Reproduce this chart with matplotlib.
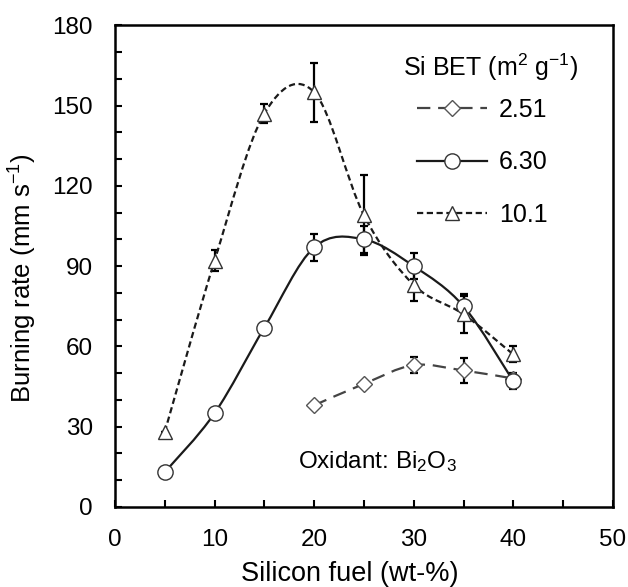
import matplotlib
matplotlib.use("Agg")
import matplotlib.pyplot as plt
from matplotlib.path import Path
from matplotlib.patches import PathPatch
from matplotlib.lines import Line2D

plt.rcParams['font.family'] = ['Liberation Sans', 'DejaVu Sans']
plt.rcParams['mathtext.fontset'] = 'custom'
plt.rcParams['mathtext.rm'] = 'Liberation Sans'
plt.rcParams['mathtext.it'] = 'Liberation Sans'
plt.rcParams['mathtext.default'] = 'regular'

# Si BET 10.1 m2/g
x_tri = [5, 10, 15, 20, 25, 30, 35, 40]
y_tri = [28, 92, 147, 155, 109, 83, 72, 57]
e_tri = [0, 4, 3.5, 11, 15, 6, 7, 3]

# Si BET 6.30 m2/g
x_circ = [5, 10, 15, 20, 25, 30, 35, 40]
y_circ = [13, 35, 67, 97, 100, 90, 75, 47]
e_circ = [0, 0, 0, 5, 5, 5, 4.5, 3]

# Si BET 2.51 m2/g
x_dia = [20, 25, 30, 35, 40]
y_dia = [38, 46, 53, 51, 48]
e_dia = [0, 0, 3, 4.7, 0]

labels = ['2.51', '6.30', '10.1']


def smooth_path(xs, ys):
    # Excel-style smoothed line as cubic bezier segments
    n = len(xs)
    verts = [(xs[0], ys[0])]
    codes = [Path.MOVETO]
    for i in range(n - 1):
        p0 = max(i - 1, 0)
        p3 = min(i + 2, n - 1)
        c1 = (xs[i] + (xs[i + 1] - xs[p0]) / 6, ys[i] + (ys[i + 1] - ys[p0]) / 6)
        c2 = (xs[i + 1] - (xs[p3] - xs[i]) / 6, ys[i + 1] - (ys[p3] - ys[i]) / 6)
        verts += [c1, c2, (xs[i + 1], ys[i + 1])]
        codes += [Path.CURVE4] * 3
    return Path(verts, codes)


fig = plt.figure(figsize=(6.28, 5.87), dpi=100)
ax = fig.add_axes([0.183, 0.1363, 0.793, 0.8207])

ebkw = dict(fmt='none', ecolor='black', elinewidth=1.6, capsize=3, capthick=1.6, zorder=2)
ax.errorbar(x_tri, y_tri, yerr=e_tri, **ebkw)
ax.errorbar(x_circ, y_circ, yerr=e_circ, **ebkw)
ax.errorbar(x_dia, y_dia, yerr=e_dia, **ebkw)

dia_style = (0, (6, 3.5))
tri_style = (0, (2.8, 1.6))
ax.add_patch(PathPatch(smooth_path(x_dia, y_dia), fill=False, edgecolor='#444444',
                       lw=1.6, linestyle=dia_style, zorder=3))
ax.add_patch(PathPatch(smooth_path(x_circ, y_circ), fill=False, edgecolor='#1a1a1a',
                       lw=1.6, linestyle='-', zorder=3))
ax.add_patch(PathPatch(smooth_path(x_tri, y_tri), fill=False, edgecolor='#1a1a1a',
                       lw=1.6, linestyle=tri_style, zorder=3))

dia_mk = dict(marker='D', ms=8, mfc='white', mec='#555555', mew=1.0)
circ_mk = dict(marker='o', ms=11, mfc='white', mec='#333333', mew=1.0)
tri_mk = dict(marker='^', ms=10, mfc='white', mec='#333333', mew=1.0)
ax.plot(x_dia, y_dia, ls='none', zorder=4, **dia_mk)
ax.plot(x_circ, y_circ, ls='none', zorder=4, **circ_mk)
ax.plot(x_tri, y_tri, ls='none', zorder=4, **tri_mk)

handles = [
    Line2D([], [], color='#444444', lw=1.6, ls=dia_style, **dia_mk),
    Line2D([], [], color='#1a1a1a', lw=1.6, ls='-', **circ_mk),
    Line2D([], [], color='#1a1a1a', lw=1.6, ls=tri_style, **tri_mk),
]
ax.legend(handles, labels, frameon=False, fontsize=18, handlelength=2.8,
          labelspacing=1.15, handletextpad=0.5, loc='upper left',
          bbox_to_anchor=(0.606, 0.85), borderaxespad=0, borderpad=0)
ax.text(0.578, 0.913, 'Si BET (m$^2$ g$^{-1}$)', transform=ax.transAxes,
        fontsize=18, ha='left', va='center')

ax.text(18.4, 17, 'Oxidant: Bi$_2$O$_3$', fontsize=17.5, ha='left', va='center')

ax.set_xlim(0, 50)
ax.set_ylim(0, 180)
ax.set_xticks(range(0, 51, 10))
ax.set_xticks(range(0, 51, 5), minor=True)
ax.set_yticks(range(0, 181, 30))
ax.set_yticks(range(0, 181, 10), minor=True)
ax.tick_params(which='both', direction='in', length=5, width=1.5, labelsize=17.5)
ax.tick_params(axis='x', pad=16)
ax.tick_params(axis='y', pad=16)
ax.tick_params(which='both', top=False, right=False)
for s in ax.spines.values():
    s.set_linewidth(1.8)

ax.set_xlabel('Silicon fuel (wt-%)', fontsize=19.5)
ax.set_ylabel('Burning rate (mm s$^{-1}$)', fontsize=18.5)
ax.xaxis.set_label_coords(0.471, -0.112)
ax.yaxis.set_label_coords(-0.152, 0.475)

fig.savefig('out.png', dpi=100)
